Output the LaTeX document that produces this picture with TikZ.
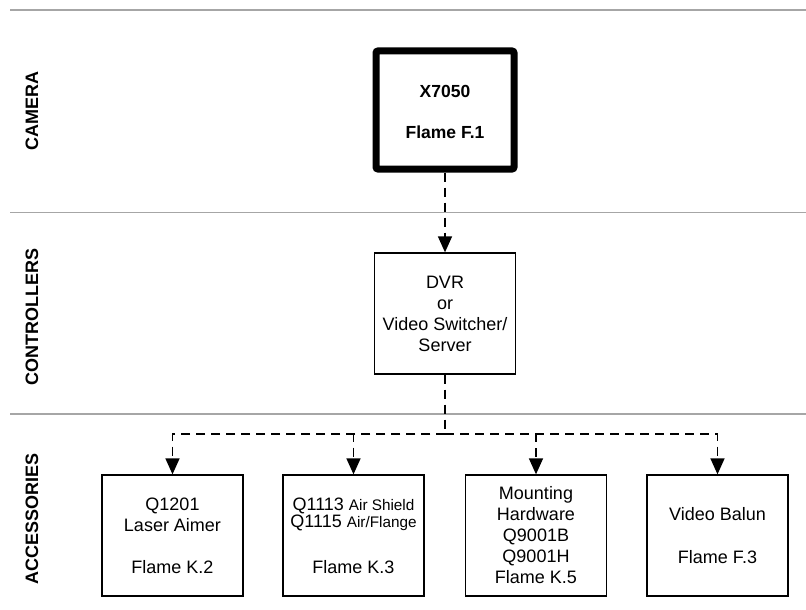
\documentclass[tikz,border=0pt]{standalone}
\usepackage{fontspec}
\setmainfont{Liberation Sans}
\usetikzlibrary{arrows.meta}
\begin{document}
\begin{tikzpicture}[x=1pt,y=-1pt,
  lane/.style={draw=black!35, line width=1.5pt},
  box/.style={draw, line width=1.3pt, minimum width=141pt, minimum height=121pt, inner sep=0pt, align=center, font=\fontsize{18}{21}\selectfont},
  cambox/.style={draw, line width=7pt, rounded corners=2pt, minimum width=138pt, minimum height=118pt, inner sep=0pt, align=center, font=\fontsize{17.5}{21}\selectfont\bfseries},
  lanelabel/.style={rotate=90, inner sep=0pt, font=\fontsize{18}{21}\selectfont\bfseries},
  conn/.style={line width=1.5pt, dash pattern=on 9pt off 6pt},
  arr/.style={-{Triangle[width=14pt,length=16pt]}}
]
\useasboundingbox (0,0) rectangle (806,610);
% lane separators
\draw[lane] (10,10) -- (806,10);
\draw[lane] (10,212.5) -- (806,212.5);
\draw[lane] (10,414) -- (806,414);
% lane labels
\node[lanelabel] (lcam) at (32,111) {CAMERA};
\node[lanelabel] (lctrl) at (32,316.5) {CONTROLLERS};
\node[lanelabel] (lacc) at (32,519) {ACCESSORIES};
% boxes
\node[cambox] (cam) at (445,110) {\rule{0pt}{16pt}X7050\\[20pt]Flame F.1};
\node[box] (ctrl) at (445,313.5) {DVR\\or\\Video Switcher/\\Server};
\node[box] (a1) at (172.5,535.5) {Q1201\\Laser Aimer\\[21pt]Flame K.2};
\node[box] (a2) at (353.5,535.5) {Q1113 {\fontsize{15.3}{15}\selectfont Air Shield}\\[-4pt]Q1115 {\fontsize{15.3}{15}\selectfont Air/Flange}\\[25pt]Flame K.3};
\node[box] (a3) at (536,535.5) {Mounting\\Hardware\\Q9001B\\Q9001H\\Flame K.5};
\node[box] (a4) at (717.5,535.5) {Video Balun\\[22pt]Flame F.3};
% connectors
\coordinate (j) at (445,434);
\draw[conn,arr] (cam) -- (ctrl);
\draw[conn] (ctrl) -- (j);
\draw[conn,arr] (j) -| (a1);
\draw[conn,arr] (j) -| (a2);
\draw[conn,arr] (j) -| (a3);
\draw[conn,arr] (j) -| (a4);
\end{tikzpicture}
\end{document}
